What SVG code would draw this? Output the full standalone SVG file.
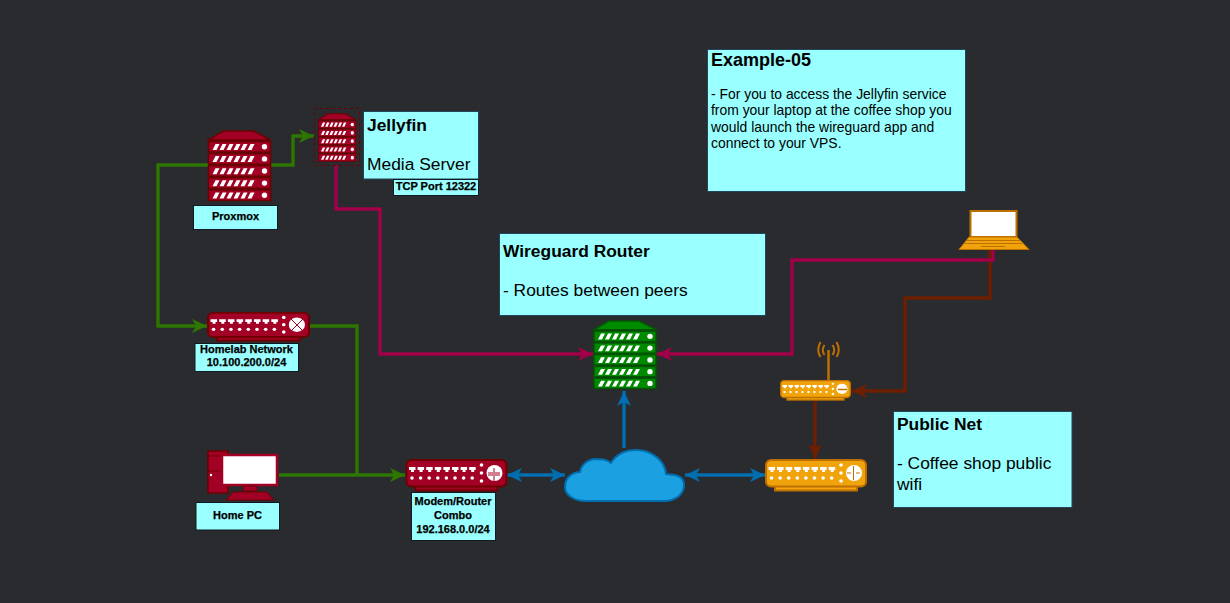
<svg xmlns="http://www.w3.org/2000/svg" width="1230" height="603" viewBox="0 0 1230 603">
<style>
text{font-family:"Liberation Sans",Arial,sans-serif;fill:#000}
.box{fill:#99ffff;stroke:#23445d;stroke-width:1}
.lb{fill:#99ffff;stroke:#0f1a22;stroke-width:1}
.t{font-size:11px;font-weight:bold;text-anchor:middle;stroke:#000;stroke-width:.25}
.h{font-size:17.4px;font-weight:bold}
.b{font-size:17.4px}
.s{font-size:13.9px}
.c{fill:none;stroke-width:3.4}
.red{--s:#6f0000;color:#a20025}
.grn{--s:#005700;color:#008a00}
.org{--s:#bd7000;color:#f0a30a}
.sb{fill:currentColor;stroke:var(--s);stroke-width:1.5}
.rb{fill:currentColor;stroke:var(--s);stroke-width:2}
</style>
<defs>
<symbol id="server" viewBox="0 0 64 73" preserveAspectRatio="none" overflow="visible">
<path class="sb" d="M1 10 16 1H46L63 10Z"/>
<g id="row"><rect class="sb" x="1" y="11.500" width="62" height="10.500"/><path fill="#fff" d="M5 20 8 14H12L9 20ZM12 20 15 14H19L16 20ZM19 20 22 14H26L23 20ZM26 20 29 14H33L30 20ZM33 20 36 14H40L37 20ZM40 20 43 14H47L44 20Z"/><circle cx="57" cy="16.800" r="2.700" fill="#fff"/></g>
<use href="#row" y="12.100"/><use href="#row" y="24.200"/><use href="#row" y="36.300"/><use href="#row" y="48.400"/>
</symbol>
<symbol id="router" viewBox="0 0 102 33" preserveAspectRatio="none" overflow="visible">
<rect class="rb" x="10" y="26" width="82" height="5.500"/>
<rect class="rb" x="1" y="1" width="100" height="26.500" rx="5"/>
<g fill="#fff">
<path id="port" d="M3.500 8H10V11H8.500V13H5.500V11H3.500Z"/>
<use href="#port" x="8.600"/><use href="#port" x="17.200"/><use href="#port" x="25.800"/><use href="#port" x="34.400"/><use href="#port" x="43"/><use href="#port" x="51.600"/><use href="#port" x="60.200"/>
<circle cx="6.500" cy="19" r="1.800"/><circle cx="15.100" cy="19" r="1.800"/><circle cx="23.700" cy="19" r="1.800"/><circle cx="32.300" cy="19" r="1.800"/><circle cx="40.900" cy="19" r="1.800"/><circle cx="49.500" cy="19" r="1.800"/><circle cx="58.100" cy="19" r="1.800"/><circle cx="66.700" cy="19" r="1.800"/>
<circle cx="76" cy="6" r="1.800"/><circle cx="76" cy="14" r="1.800"/><circle cx="76" cy="22" r="1.800"/>
<circle cx="89" cy="14" r="8"/>
</g>
</symbol>
<marker id="aG" viewBox="0 0 17 16" refX="16" refY="8" markerWidth="17" markerHeight="16" markerUnits="userSpaceOnUse" orient="auto-start-reverse"><path d="M1 1 16 8 1 15 5 8Z" fill="#2d7600"/></marker>
<marker id="aR" viewBox="0 0 17 16" refX="16" refY="8" markerWidth="17" markerHeight="16" markerUnits="userSpaceOnUse" orient="auto-start-reverse"><path d="M1 1 16 8 1 15 5 8Z" fill="#a20048"/></marker>
<marker id="aD" viewBox="0 0 17 16" refX="16" refY="8" markerWidth="17" markerHeight="16" markerUnits="userSpaceOnUse" orient="auto-start-reverse"><path d="M1 1 16 8 1 15 5 8Z" fill="#6d1f00"/></marker>
<marker id="aB" viewBox="0 0 17 16" refX="16" refY="8" markerWidth="17" markerHeight="16" markerUnits="userSpaceOnUse" orient="auto-start-reverse"><path d="M1 1 16 8 1 15 5 8Z" fill="#006eaf"/></marker>
</defs>
<rect width="1230" height="603" fill="#2a2b2f"/>
<g id="connectors">
<path class="c" stroke="#2d7600" d="M208 165H158V326H207" marker-end="url(#aG)"/>
<path class="c" stroke="#2d7600" d="M271 165H293V136H314" marker-end="url(#aG)"/>
<path class="c" stroke="#2d7600" d="M310 326H357V475"/>
<path class="c" stroke="#2d7600" d="M279 475H405" marker-end="url(#aG)"/>
<path class="c" stroke="#a20048" d="M336 165V209H380V354H593" marker-end="url(#aR)"/>
<path class="c" stroke="#6d1f00" d="M990 250V298H905V391H852" marker-end="url(#aD)"/>
<path class="c" stroke="#a20048" d="M993 250V260H792V354H657" marker-end="url(#aR)"/>
<path class="c" stroke="#6d1f00" d="M815 401V459" marker-end="url(#aD)"/>
<path class="c" stroke="#006eaf" d="M624 448V391" marker-end="url(#aB)"/>
<path class="c" stroke="#006eaf" d="M507 475H565" marker-start="url(#aB)" marker-end="url(#aB)"/>
<path class="c" stroke="#006eaf" d="M685 475H765" marker-start="url(#aB)" marker-end="url(#aB)"/>
</g>
<g id="proxmox"><use href="#server" class="red" x="207.500" y="130" width="64" height="73"/><rect class="lb" x="193.500" y="205.500" width="84" height="24"/><text class="t" x="235.500" y="220">Proxmox</text></g>
<g id="jellyfin"><rect x="314" y="108.500" width="45.500" height="57" fill="none" stroke="#6f0000" stroke-dasharray="3 3"/><use href="#server" class="red" x="318" y="113" width="38.500" height="50"/></g>
<g id="jellyfin-label"><rect class="box" x="363.500" y="111.500" width="115" height="67.500"/><text class="h" x="367" y="131">Jellyfin</text><text class="b" x="367" y="170">Media Server</text><rect class="lb" x="393.500" y="179.500" width="85" height="16"/><text class="t" x="436" y="190">TCP Port 12322</text></g>
<g id="homelab"><use href="#router" class="red" x="207" y="312" width="103" height="30"/><g stroke="#a20025" stroke-width="1"><path d="M291 319 303 331M303 319 291 331"/></g><rect class="lb" x="195" y="343.500" width="103.500" height="28"/><text class="t" x="246.500" y="353">Homelab Network</text><text class="t" x="246.500" y="366">10.100.200.0/24</text></g>
<g id="home-pc"><path d="M208 451H228V493H208Z" fill="#a20025" stroke="#6f0000" stroke-width="1.500"/><path d="M208 456H222M208 471H222" stroke="#6f0000"/><circle cx="211" cy="475" r="1.200" fill="#fff"/><rect x="222" y="455" width="55" height="30" fill="#fff" stroke="#a20025" stroke-width="2.500"/><path d="M243 486H257V491H243ZM233 492H267L274 500H226Z" fill="#a20025" stroke="#6f0000"/><rect class="lb" x="196" y="502.500" width="83.500" height="27.500"/><text class="t" x="237.500" y="519">Home PC</text></g>
<g id="modem"><use href="#router" class="red" x="405.500" y="459" width="102" height="33"/><g stroke="#a20025" fill="none"><path d="M494 468V482M488 473H493M495 473H500M488 475H493M495 475H500"/></g><rect class="lb" x="411.500" y="492.500" width="84" height="48"/><text class="t" x="453" y="505">Modem/Router</text><text class="t" x="453" y="519">Combo</text><text class="t" x="453" y="533">192.168.0.0/24</text></g>
<g id="cloud"><path d="M586 501H664C677 501 684 493 684 485 684 476 677 475 666 474 665 461 652 450 636 450 624 450 616 455 611 463 606 459 601 459 595 459 586 460 581 466 580 472 569 473 565 480 565 487 565 495 574 501 586 501Z" fill="#1ba1e2" stroke="#006eaf" stroke-width="2"/></g>
<g id="wireguard"><rect class="box" x="499.500" y="233.500" width="266" height="82"/><text class="h" x="503" y="257">Wireguard Router</text><text class="b" x="503" y="296">- Routes between peers</text><use href="#server" class="grn" x="593" y="320" width="64" height="71"/></g>
<g id="example"><rect class="box" x="707.500" y="49.500" width="258" height="142"/><text class="h" x="711" y="66" style="font-size:18px">Example-05</text><text class="s" x="711" y="99">- For you to access the Jellyfin service</text><text class="s" x="711" y="115">from your laptop at the coffee shop you</text><text class="s" x="711" y="132">would launch the wireguard app and</text><text class="s" x="711" y="148">connect to your VPS.</text></g>
<g id="laptop"><path d="M970.500 211H1016.500V237H970.500Z" fill="#fff" stroke="#bd7000" stroke-width="2"/><path d="M969 237H1017L1029 249.500H959Z" fill="#f0a30a" stroke="#bd7000"/><path d="M966 240.500H1020M964 243.500H1022M981 246.500H1005" stroke="#bd7000" fill="none"/></g>
<g id="wifi-router"><path d="M828.500 381V350" stroke="#bd7000" stroke-width="2.500" fill="none"/><path d="M824.500 345Q821 350 824.500 355M820.500 342Q816 350 820.500 357M832.500 345Q836 350 832.500 355M836.500 342Q841 350 836.500 357" stroke="#bd7000" stroke-width="2" fill="none"/><use href="#router" class="org" x="780" y="380" width="71" height="21"/><path d="M838 389.500H847" stroke="#bd7000" stroke-width="1.500"/></g>
<g id="isp-router"><use href="#router" class="org" x="765" y="459" width="102" height="33"/><g stroke="#bd7000" fill="none"><path d="M853.500 466V480M847 473H851M856 473H860"/></g></g>
<g id="public-net"><rect class="box" x="893.500" y="411.500" width="178.500" height="96"/><text class="h" x="897" y="430">Public Net</text><text class="b" x="897" y="469">- Coffee shop public</text><text class="b" x="897" y="490">wifi</text></g>
</svg>
